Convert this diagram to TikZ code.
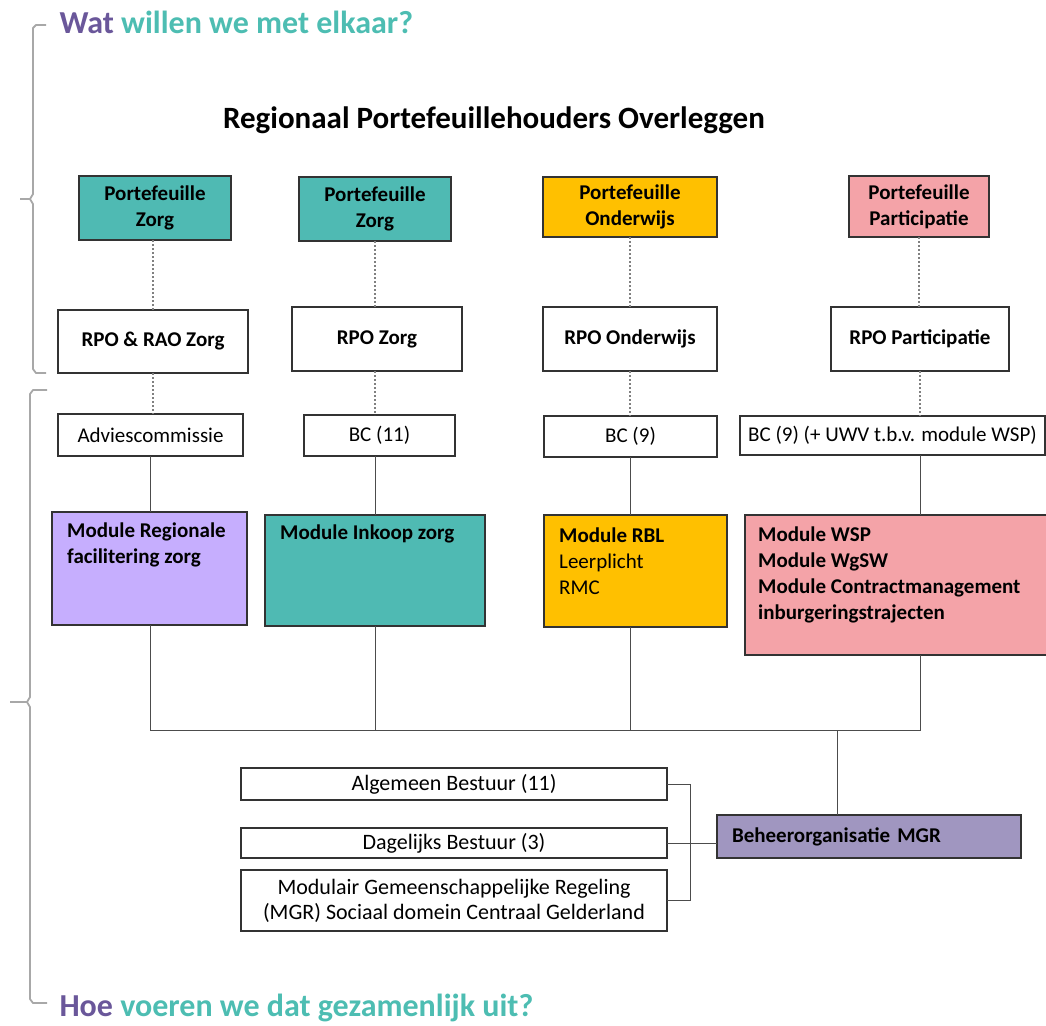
\documentclass[tikz,border=0pt]{standalone}
\usepackage{fontspec}
\setmainfont{Carlito}
\usetikzlibrary{positioning}
\definecolor{zorgteal}{HTML}{4FBAB3}
\definecolor{owgeel}{HTML}{FFC000}
\definecolor{partroze}{HTML}{F4A3A8}
\definecolor{lila}{HTML}{C6AEFE}
\definecolor{beheerpaars}{HTML}{A096C0}
\definecolor{kopP}{HTML}{6A579A}
\definecolor{kopT}{HTML}{4DBDB2}
\definecolor{accolade}{HTML}{A8A8A8}

\begin{document}
\begin{tikzpicture}[x=1pt,y=-1pt,
    box/.style={draw=black!80,line width=1.3pt,inner sep=0pt,outer sep=0pt},
    stip/.style={draw=black!50,line width=1.2pt,dash pattern=on 2pt off 2pt},
    lijn/.style={draw=black!70,line width=0.8pt},
    acc/.style={draw=accolade,line width=1.8pt,line join=round}]
\useasboundingbox (0,0) rectangle (1046,1025);

% koppen
\node[anchor=west,font=\fontsize{32}{36}\selectfont\bfseries] (wat) at (56,22)
    {\textcolor{kopP}{Wat} \textcolor{kopT}{willen we met elkaar?}};
\node[anchor=west,font=\fontsize{32}{36}\selectfont\bfseries] (hoe) at (56,1008)
    {\textcolor{kopP}{Hoe} \textcolor{kopT}{voeren we dat gezamenlijk uit?}};
\node[font=\fontsize{31}{36}\selectfont\bfseries] (rpo) at (494,120)
    {Regionaal Portefeuillehouders Overleggen};

% accolades
\draw[acc] (46,25) -- (36,25) -- (33,28) -- (33,194) -- (30,199) -- (20,199);
\draw[acc] (30,199) -- (33,204) -- (33,369) -- (36,373) -- (46,373);
\draw[acc] (47,390) -- (33,390) -- (30,394) -- (30,697) -- (27,702) -- (10,702);
\draw[acc] (27,702) -- (30,707) -- (30,999) -- (33,1003) -- (47,1003);

\begin{scope}[every node/.style={box,align=center,font=\fontsize{21}{26}\selectfont\bfseries}]
    \node[fill=zorgteal,minimum width=152,minimum height=64] (p1) at (155,208) {Portefeuille\\Zorg};
    \node[fill=zorgteal,minimum width=152,minimum height=64] (p2) at (375,209) {Portefeuille\\Zorg};
    \node[fill=owgeel,minimum width=174,minimum height=60] (p3) at (630,207) {Portefeuille\\Onderwijs};
    \node[fill=partroze,minimum width=140,minimum height=61] (p4) at (919,206.5) {Portefeuille\\Participatie};

    \node[fill=white,minimum width=190,minimum height=63] (r1) at (153,341.5) {RPO \& RAO Zorg};
    \node[fill=white,minimum width=170,minimum height=64] (r2) at (377,339) {RPO Zorg};
    \node[fill=white,minimum width=174,minimum height=64] (r3) at (630,339) {RPO Onderwijs};
    \node[fill=white,minimum width=178,minimum height=64] (r4) at (920,339) {RPO Participatie};
\end{scope}

\begin{scope}[every node/.style={box,fill=white,font=\fontsize{21}{26}\selectfont}]
    \node[minimum width=185,minimum height=42] (b1) at (150.5,435) {Adviescommissie};
    \node[minimum width=151,minimum height=41] (b2) at (379.5,435.5) {BC (11)};
    \node[minimum width=173,minimum height=41] (b3) at (630.5,436.5) {BC (9)};
    \node[minimum width=305,minimum height=39] (b4) at (892.5,435.5) {BC (9) (+ UWV t.b.v. module WSP)};
\end{scope}

% modules
\begin{scope}[every node/.style={box}]
    \node[fill=lila,minimum width=195,minimum height=113] (m1) at (149.5,568.5) {};
    \node[fill=zorgteal,minimum width=220,minimum height=111] (m2) at (375,570.5) {};
    \node[fill=owgeel,minimum width=183,minimum height=112] (m3) at (635.5,571) {};
    \node[fill=partroze,minimum width=304,minimum height=140] (m4) at (897,585) {};
\end{scope}

\begin{scope}[every node/.style={anchor=north west,align=left,inner sep=0pt,font=\fontsize{21}{26}\selectfont}]
    \node[below right=11pt and 15pt of m1.north west] (t1) {\bfseries Module Regionale\\\bfseries facilitering zorg};
    \node[below right=10pt and 15pt of m2.north west] (t2) {\bfseries Module Inkoop zorg};
    \node[below right=13pt and 15pt of m3.north west] (t3) {\bfseries Module RBL\\Leerplicht\\RMC};
    \node[below right=12pt and 13pt of m4.north west] (t4) {\bfseries Module WSP\\\bfseries Module WgSW\\\bfseries Module Contractmanagement\\\bfseries inburgeringstrajecten};
\end{scope}

% MGR
\begin{scope}[every node/.style={box,fill=white,align=center,font=\fontsize{22}{25}\selectfont}]
    \node[minimum width=426,minimum height=32] (ab) at (454,784) {Algemeen Bestuur (11)};
    \node[minimum width=426,minimum height=30] (db) at (454,843) {Dagelijks Bestuur (3)};
    \node[minimum width=426,minimum height=61] (mgr) at (454,900.5) {Modulair Gemeenschappelijke Regeling\\(MGR) Sociaal domein Centraal Gelderland};
\end{scope}
\node[box,fill=beheerpaars,minimum width=304,minimum height=43,text width=274,inner xsep=15pt,align=left,
    font=\fontsize{21}{26}\selectfont\bfseries] (bo) at (869,836.5) {Beheerorganisatie MGR};

% verbindingen
\coordinate (bus) at (837,730);
\draw[stip] (r1.north) -- (r1.north |- p1.south);
\draw[stip] (p2.south) -- (p2.south |- r2.north);
\draw[stip] (p3.south) -- (p3.south |- r3.north);
\draw[stip] (p4.south) -- (p4.south |- r4.north);
\draw[stip] (r1.south) -- (r1.south |- b1.north);
\draw[stip] (p2.south |- r2.south) -- (p2.south |- b2.north);
\draw[stip] (r3.south) -- (r3.south |- b3.north);
\draw[stip] (r4.south) -- (r4.south |- b4.north);

\draw[lijn] (b1.south) -- (b1.south |- m1.north);
\draw[lijn] (m2.north |- b2.south) -- (m2.north);
\draw[lijn] (b3.south) -- (b3.south |- m3.north);
\draw[lijn] (r4.south |- b4.south) -- (r4.south |- m4.north);

\draw[lijn] (b1.south |- m1.south) |- (bus);
\draw[lijn] (m2.south) -- (m2.south |- bus);
\draw[lijn] (b3.south |- m3.south) -- (b3.south |- bus);
\draw[lijn] (r4.south |- m4.south) |- (bus);
\draw[lijn] (bus) -- (bus |- bo.north);

\draw[lijn] (ab.east) -- ++(23,0) |- (mgr.east);
\draw[lijn] (db.east) -- (db.east -| bo.west);
\end{tikzpicture}
\end{document}
